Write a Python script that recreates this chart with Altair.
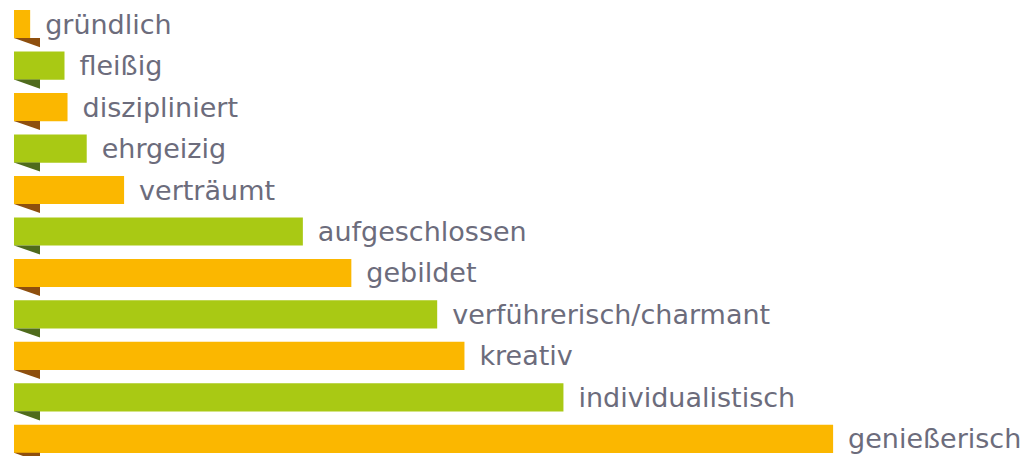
import altair as alt
import pandas as pd

categories = ["gründlich", "fleißig", "diszipliniert", "ehrgeizig", "verträumt",
              "aufgeschlossen", "gebildet", "verführerisch/charmant", "kreativ",
              "individualistisch", "genießerisch"]
values = [1.6, 5.0, 5.3, 7.2, 10.9, 28.6, 33.4, 41.9, 44.6, 54.4, 81.1]
groups = ["a", "b", "a", "b", "a", "b", "a", "b", "a", "b", "a"]

df = pd.DataFrame({"cat": categories, "val": values, "grp": groups})

bar_colors = alt.Scale(domain=["a", "b"], range=["#FBB700", "#A9C914"])
fold_colors = alt.Scale(domain=["a", "b"], range=["#8E4F0E", "#4F6B1C"])

y = alt.Y("cat:N", sort=categories, axis=None,
          scale=alt.Scale(range=[0, 447], paddingInner=0.32, paddingOuter=0.048))
x = alt.X("val:Q", axis=None, scale=alt.Scale(domain=[0, 100], range=[0, 1010]))

base = alt.Chart(df)

bars = base.mark_bar(cornerRadius=0).encode(
    x=x, y=y, color=alt.Color("grp:N", scale=bar_colors, legend=None)
)

folds = base.mark_point(
    shape="M -1 -0.35 L 1 -0.35 L 1 0.35 Z", filled=True, opacity=1,
    size=676, xOffset=13, yOffset=18.5, strokeWidth=0
).encode(
    x=alt.X("zero:Q", axis=None, scale=alt.Scale(domain=[0, 100], range=[0, 1010])),
    y=y,
    color=alt.Color("grp:N", scale=fold_colors, legend=None)
).transform_calculate(zero="0")

labels = base.mark_text(
    align="left", baseline="alphabetic", dx=15, dy=9.5,
    font="DejaVu Sans", fontSize=27, color="#6C6C7C"
).encode(x=x, y=y, text="cat:N")

chart = alt.layer(bars, folds, labels).resolve_scale(color="independent").properties(
    width=1010, height=448,
    autosize=alt.AutoSizeParams(type="none"),
    padding={"left": 6, "top": 0, "right": 0, "bottom": 0}
).configure_view(stroke=None)

chart.save("out.html", embed_options={"renderer": "svg", "actions": False})
